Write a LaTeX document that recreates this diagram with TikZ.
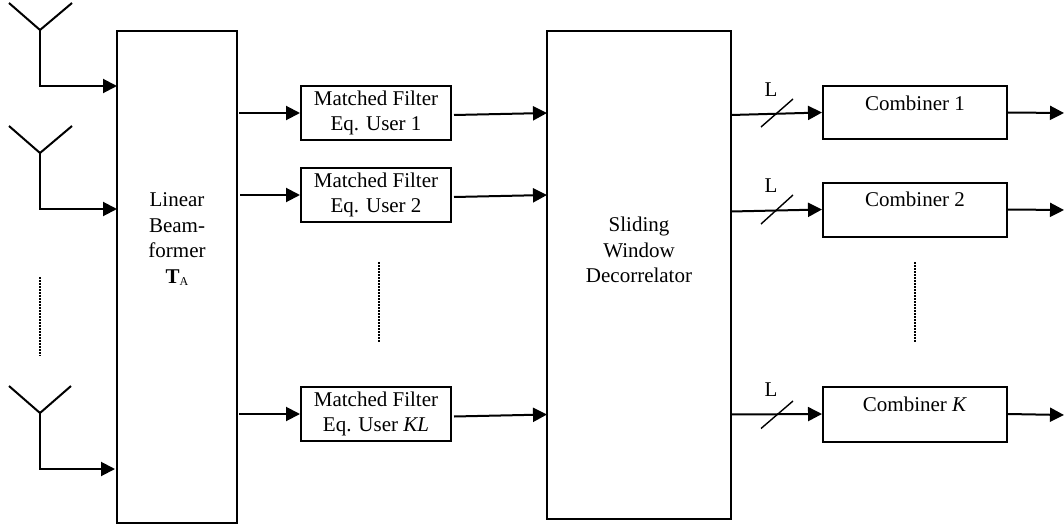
\documentclass[tikz,border=0pt]{standalone}
\usepackage{fontspec}
\setmainfont{Liberation Serif}
\usetikzlibrary{arrows.meta}
\tikzset{
    box/.style={draw=black, line width=2pt, inner sep=0pt, align=center, font=\fontsize{21}{25.5}\selectfont},
    mf/.style={box, minimum width=150pt, minimum height=54pt},
    comb/.style={box, minimum width=184pt, text height=24.5pt, text depth=28.5pt},
    txt/.style={inner sep=0pt, align=center, font=\fontsize{21}{25.5}\selectfont},
    sig/.style={black, line width=2pt, -{Triangle[length=14pt,width=14pt]}},
    wire/.style={black, line width=2pt},
    thin wire/.style={black, line width=1.4pt},
    vdots/.style={black, line width=2pt, dash pattern=on 1.6pt off 1.4pt}
}
\begin{document}
\begin{tikzpicture}[x=1pt, y=-1pt]
        \useasboundingbox (0,0) rectangle (1064,524);

        \node[box, minimum width=120pt, minimum height=492pt] (lin) at (177,277) {};
        \node[txt] (lintxt) at (177,239) {Linear\\Beam-\\former\\\textbf{T}\raisebox{-2pt}{\fontsize{12}{12}\selectfont A}};
        \node[box, minimum width=184pt, minimum height=487pt] (sw) at (639,275) {};
        \node[txt] (swtxt) at (639,250) {Sliding\\Window\\Decorrelator};

        \node[mf] (mf1) at (376,113) {Matched Filter\\Eq. User 1};
        \node[mf] (mf2) at (376,195) {Matched Filter\\Eq. User 2};
        \node[mf] (mfk) at (376,414) {Matched Filter\\Eq. User \textit{KL}};

        \node[comb] (c1) at (915,112.5) {Combiner 1};
        \node[comb, text height=24pt, text depth=30pt] (c2) at (915,209.5) {Combiner 2};
        \node[comb, text height=25pt, text depth=30pt] (ck) at (915,414) {Combiner \textit{K}};

        \coordinate (a1) at (40,30);
        \coordinate (a1l) at (9,3);
        \coordinate (a1r) at (72,3);
        \coordinate (b1) at (40,86);
        \coordinate (i1) at (117,86);
        \coordinate (a2) at (40,153);
        \coordinate (a2l) at (9,126);
        \coordinate (a2r) at (72,126);
        \coordinate (b2) at (40,209);
        \coordinate (i2) at (117,209);
        \coordinate (a3) at (40,413);
        \coordinate (a3l) at (9,386);
        \coordinate (a3r) at (71,386);
        \coordinate (b3) at (40,469);
        \coordinate (i3) at (115,469);

        \draw [wire] (a1l) -- (a1) -- (a1r);
        \draw [wire] (a2l) -- (a2) -- (a2r);
        \draw [wire] (a3l) -- (a3) -- (a3r);
        \draw [sig] (a1) -- (b1) -- (i1);
        \draw [sig] (a2) -- (b2) -- (i2);
        \draw [sig] (a3) -- (b3) -- (i3);

        \coordinate (l1) at (239,113);
        \coordinate (l2) at (240,195);
        \coordinate (lk) at (239,414);
        \draw [sig] (l1) -- (mf1.west);
        \draw [sig] (l2) -- (mf2.west);
        \draw [sig] (lk) -- (mfk.west);

        \coordinate (m1) at (454,115);
        \coordinate (m2) at (454,197);
        \coordinate (mk) at (454,416.5);
        \coordinate (s1) at (547,113);
        \coordinate (s2) at (547,195);
        \coordinate (sk) at (547,414.5);
        \draw [sig] (m1) -- (s1);
        \draw [sig] (m2) -- (s2);
        \draw [sig] (mk) -- (sk);

        \coordinate (t1) at (731,115);
        \coordinate (t2) at (731,211.5);
        \coordinate (tk) at (731,414.5);
        \draw [sig] (t1) -- (c1.west);
        \draw [sig] (t2) -- (c2.west);
        \draw [sig] (tk) -- (ck.west);

        \coordinate (e1) at (1064,113);
        \coordinate (e2) at (1064,210);
        \coordinate (ek) at (1064,415);
        \draw [sig] (c1.east) -- (e1);
        \draw [sig] (c2.east) -- (e2);
        \draw [sig] (ck.east) -- (ek);

        \coordinate (sl1a) at (761,127);
        \coordinate (sl1b) at (793,99);
        \coordinate (sl2a) at (761,224);
        \coordinate (sl2b) at (793,195);
        \coordinate (slka) at (761,428.5);
        \coordinate (slkb) at (793,401);
        \draw [thin wire] (sl1a) -- (sl1b);
        \draw [thin wire] (sl2a) -- (sl2b);
        \draw [thin wire] (slka) -- (slkb);
        \node[txt] (l1txt) at (771,90) {L};
        \node[txt] (l2txt) at (771,186) {L};
        \node[txt] (lktxt) at (771,390) {L};

        \coordinate (d1a) at (40,277);
        \coordinate (d1b) at (40,356);
        \coordinate (d2a) at (379,262);
        \coordinate (d2b) at (379,342);
        \coordinate (d3a) at (915,262);
        \coordinate (d3b) at (915,342);
        \draw [vdots] (d1a) -- (d1b);
        \draw [vdots] (d2a) -- (d2b);
        \draw [vdots] (d3a) -- (d3b);
\end{tikzpicture}
\end{document}
